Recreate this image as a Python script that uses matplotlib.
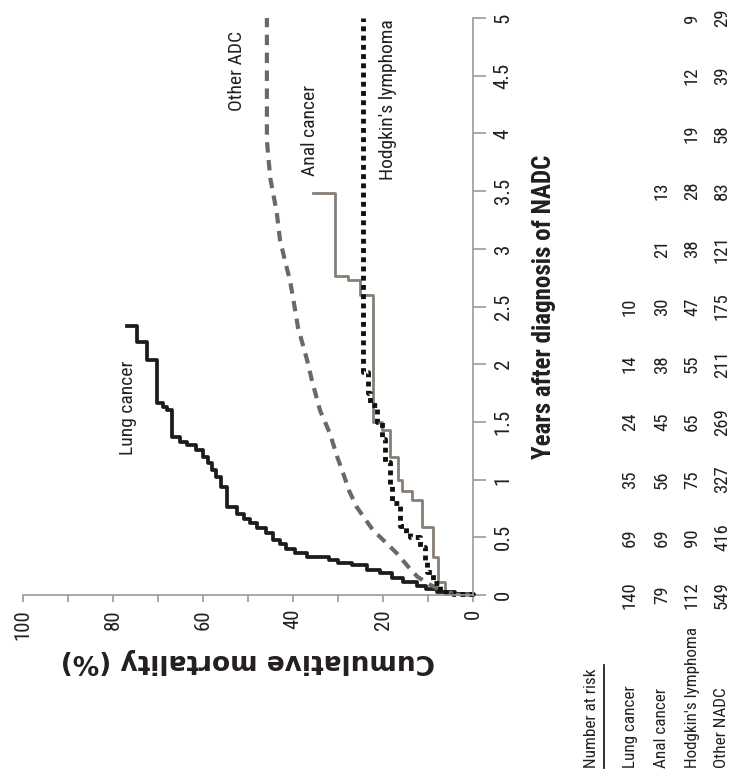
import matplotlib
matplotlib.use("Agg")
import matplotlib.pyplot as plt
import matplotlib.transforms as mtransforms
from matplotlib.lines import Line2D
from matplotlib import font_manager

# ---------------- data ----------------
years_ticks = [0, 0.5, 1, 1.5, 2, 2.5, 3, 3.5, 4, 4.5, 5]
year_tick_labels = ["0", "0.5", "1", "1.5", "2", "2.5", "3", "3.5", "4", "4.5", "5"]
mort_ticks = [0, 20, 40, 60, 80, 100]
mort_minor = [10, 30, 50, 70, 90]

lung_t = [0.00, 0.01, 0.03, 0.05, 0.08, 0.11, 0.15, 0.19, 0.22, 0.26, 0.28, 0.30, 0.33,
          0.36, 0.40, 0.44, 0.48, 0.54, 0.58, 0.62, 0.66, 0.70, 0.76, 0.94, 1.02, 1.08,
          1.14, 1.20, 1.26, 1.30, 1.33, 1.37, 1.60, 1.63, 1.66, 2.04, 2.19, 2.33]
lung_m = [0, 4, 8, 10.5, 12.5, 15.5, 18, 20.7, 23.5, 27, 30, 32, 37,
          39.5, 41.5, 43, 44.5, 46, 48, 49.6, 51, 52.5, 54.7, 56, 57.2, 58,
          59, 60, 61.5, 63.5, 65.1, 66.9, 68, 68.9, 70.3, 72.5, 74.7, 76.9]

anal_t = [0.0, 0.005, 0.11, 0.33, 0.59, 0.82, 0.90, 1.00, 1.20, 1.43, 1.50, 2.60, 2.73, 2.76, 3.48]
anal_m = [0.0, 6.2, 7.8, 8.9, 11.3, 13.6, 15.8, 16.7, 18.4, 20.2, 22.2, 25.1, 27.8, 30.7, 35.5]

hodg_t = [0.0, 0.01, 0.03, 0.10, 0.20, 0.30, 0.42, 0.50, 0.54, 0.60, 0.80, 0.95, 1.15,
          1.35, 1.50, 1.65, 1.75, 1.93, 5.0]
hodg_m = [0.0, 4.4, 7.3, 8.9, 10.2, 10.7, 11.8, 14.0, 15.0, 16.2, 18.0, 18.4, 19.6,
          20.2, 21.4, 22.9, 23.3, 24.4, 24.4]

other_t = [0.0, 0.02, 0.09, 0.16, 0.25, 0.36, 0.46, 0.56, 0.66, 0.76, 0.90, 1.06, 1.20,
           1.40, 1.60, 1.86, 2.04, 2.32, 2.58, 2.73, 2.90, 3.08, 3.31, 3.48, 3.60, 3.80,
           3.94, 5.0]
other_m = [0.0, 6.0, 9.6, 12.4, 14.5, 16.9, 19.5, 22.2, 24.0, 25.8, 27.5, 28.9, 30.2,
           31.8, 34.0, 35.8, 36.9, 38.9, 40.0, 40.7, 41.8, 42.9, 43.6, 44.4, 45.0, 45.5,
           45.8, 45.8]

risk_groups = ["Lung cancer", "Anal cancer", "Hodgkin's lymphoma", "Other NADC"]
risk_times = [0, 0.5, 1, 1.5, 2, 2.5, 3, 3.5, 4, 4.5, 5]
risk_lung = [140, 69, 35, 24, 14, 10]
risk_anal = [79, 69, 56, 45, 38, 30, 21, 13]
risk_hodg = [112, 90, 75, 65, 55, 47, 38, 28, 19, 12, 9]
risk_other = [549, 416, 327, 269, 211, 175, 121, 83, 58, 39, 29]

# ---------------- fonts ----------------
_fonts = {}
for f in font_manager.fontManager.ttflist:
    _fonts.setdefault(f.name, set()).add(f.weight if isinstance(f.weight, int) else 400)

def pick(cands, need_bold=False):
    for c in cands:
        if c in _fonts:
            if not need_bold or max(_fonts[c]) >= 600:
                return c
    return "DejaVu Sans"

NARROW_CANDS = ["Liberation Sans Narrow", "Roboto Condensed", "Archivo Narrow",
                "PT Sans Narrow", "Pragati Narrow", "Fira Sans Condensed",
                "IBM Plex Sans Condensed", "Encode Sans Condensed", "Asap Condensed",
                "Sofia Sans Condensed", "Sofia Sans Semi Condensed", "Barlow Semi Condensed",
                "Open Sans Condensed"]
NARROW_F = pick(NARROW_CANDS)
NARROWB_F = pick(NARROW_CANDS, need_bold=True)
NARROW = [NARROW_F, "DejaVu Sans"]
NARROWB = [NARROWB_F, "DejaVu Sans"]
WIDE = ["DejaVu Sans"]

TXT = "#231f20"
GRAY = "#857f75"
DGRAY = "#6c6962"
AXC = "#9a9a9a"

fig = plt.figure(figsize=(7.35, 7.83), dpi=100)
ax = fig.add_axes([23/735, 188/783, 450/735, 577/783])

ax.plot(lung_m, lung_t, drawstyle="steps-pre", color="#1c1c1c", lw=2.7, clip_on=False)
ax.plot(anal_m, anal_t, drawstyle="steps-pre", color=GRAY, lw=2.0, clip_on=False)
ax.plot(other_m, other_t, color=DGRAY, lw=3.0, linestyle=(0, (2.5, 1.8)), clip_on=False)
ax.plot(hodg_m, hodg_t, drawstyle="steps-pre", color="#111111", lw=3.5,
        linestyle=(0, (1.0, 0.9)), clip_on=False)

ax.set_xlim(100, 0)
ax.set_ylim(0, 5)
for s in ["top", "left"]:
    ax.spines[s].set_visible(False)
for s in ["bottom", "right"]:
    ax.spines[s].set_color(AXC)
    ax.spines[s].set_linewidth(1.2)

ax.yaxis.tick_right()
ax.yaxis.set_label_position("right")
ax.set_xticks(mort_ticks)
ax.set_xticks(mort_minor, minor=True)
ax.set_xticklabels([str(v) for v in mort_ticks], rotation=90, family=NARROW,
                   fontsize=15, color=TXT)
ax.set_yticks(years_ticks)
ax.set_yticklabels(year_tick_labels, rotation=90, family=NARROW, fontsize=15,
                   color=TXT, va="center")
ax.tick_params(axis="x", which="both", direction="out", length=5, width=1.2,
               color=AXC, pad=5)
ax.tick_params(axis="y", which="major", direction="out", length=9, width=1.2,
               color=AXC, pad=6)

ax.set_xlabel("Cumulative mortality (%)", family=WIDE, fontweight="bold",
              fontsize=19, color=TXT, rotation=180, labelpad=6)
ax.set_ylabel("Years after diagnosis of NADC", family=NARROWB, fontweight="bold",
              fontsize=18, color=TXT, rotation=90, labelpad=14)

# curve labels
lab_kw = dict(rotation=90, family=NARROW, fontsize=14, color=TXT,
              ha="center", va="center")
ax.text(76.7, 1.62, "Lung cancer", **lab_kw)
ax.text(52.5, 4.54, "Other ADC", **lab_kw)
ax.text(36.2, 4.03, "Anal cancer", **lab_kw)
ax.text(18.8, 4.29, "Hodgkin's lymphoma", **lab_kw)

# number at risk table
tr = mtransforms.blended_transform_factory(fig.transFigure, ax.transData)
col_x = [630/735, 662/735, 692/735, 722/735]
for cx, name in zip(col_x, risk_groups):
    fig.text(cx, 1 - 768/783, name, rotation=90, family=NARROW, fontsize=12.3,
             color=TXT, ha="center", va="bottom")
fig.text(592/735, 1 - 768/783, "Number at risk", rotation=90, family=NARROW,
         fontsize=12.3, color=TXT, ha="center", va="bottom")
fig.add_artist(Line2D([604/735, 604/735], [1 - 768/783, 1 - 665/783],
                      transform=fig.transFigure, color=TXT, lw=1.3))
for cx, vals in zip(col_x, [risk_lung, risk_anal, risk_hodg, risk_other]):
    for t, v in zip(risk_times, vals):
        ax.text(cx, t, str(v), transform=tr, rotation=90, family=NARROW,
                fontsize=13.5, color=TXT, ha="center", va="center", clip_on=False)

fig.savefig("out.png", dpi=100, facecolor="white")
